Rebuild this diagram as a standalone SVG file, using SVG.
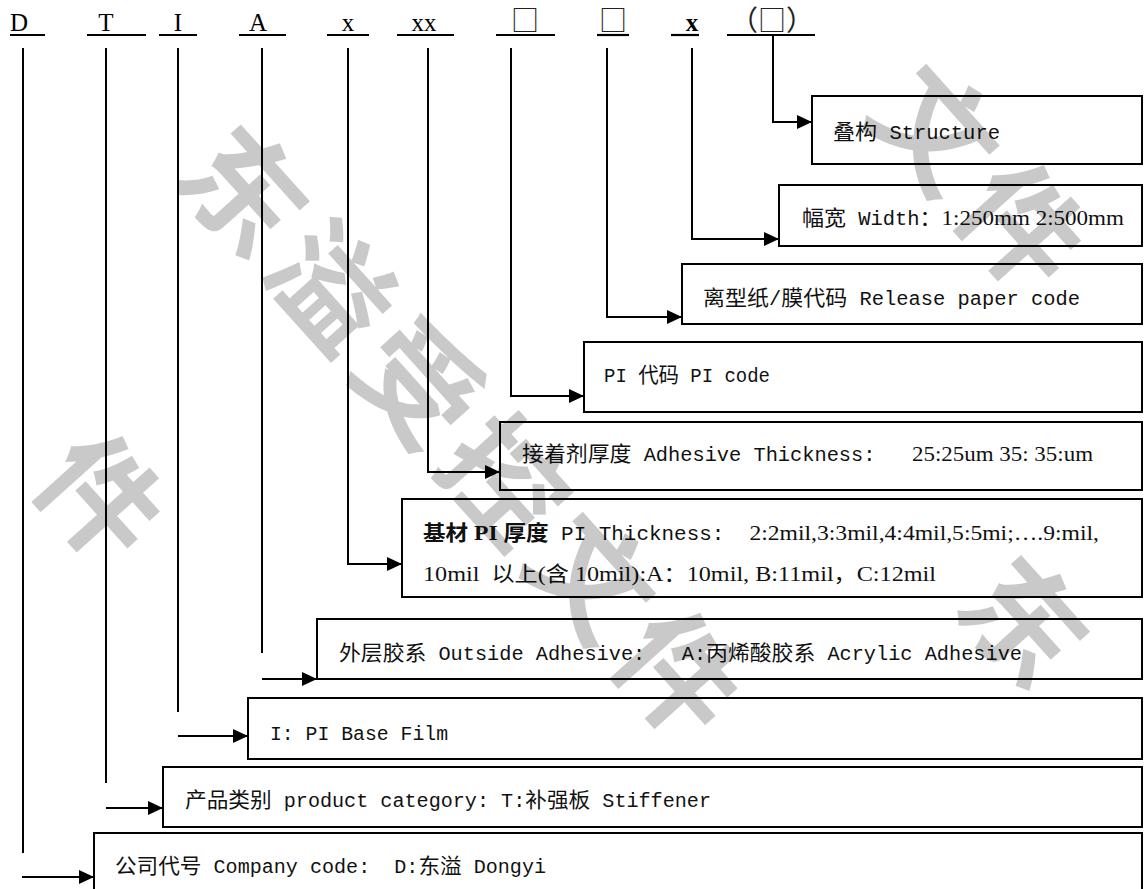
<svg xmlns="http://www.w3.org/2000/svg" width="1144" height="889" viewBox="0 0 1144 889">
<defs>
<marker id="ah" markerUnits="userSpaceOnUse" markerWidth="16" markerHeight="15" refX="15" refY="7" orient="auto">
<path d="M0,0 L15,7 L0,14 z" fill="#000"/>
</marker>
<style>
.hd{font-family:"Liberation Serif",serif;font-size:25px;fill:#000}
.sq{font-family:"Noto Sans CJK SC",sans-serif;font-size:28px;fill:#222}
.ul{stroke:#000;stroke-width:2.2}
.box{fill:#fff;stroke:#000;stroke-width:2}
.ln{fill:none;stroke:#000;stroke-width:2}
.ar{fill:none;stroke:#000;stroke-width:2;marker-end:url(#ah)}
.t{font-family:"Liberation Mono","Noto Sans CJK SC",monospace;font-size:19.5px;fill:#111;white-space:pre}
.c{font-family:"Noto Sans CJK SC",sans-serif;font-size:21px}
.r{font-family:"Liberation Serif",serif;font-size:22px}
.b{font-weight:bold}
.wm{font-family:"Noto Sans CJK SC",sans-serif;font-size:120px;font-weight:bold;letter-spacing:10px;fill:#000;fill-opacity:0.21}
</style>
</defs>
<rect width="1144" height="889" fill="#fff"/>

<g id="header">
<text class="hd" x="10" y="31">D</text>
<text class="hd" x="106" y="31" text-anchor="middle">T</text>
<text class="hd" x="178" y="31" text-anchor="middle">I</text>
<text class="hd" x="258" y="31" text-anchor="middle">A</text>
<text class="hd" x="348" y="31" text-anchor="middle">x</text>
<text class="hd" x="424" y="31" text-anchor="middle">xx</text>
<text class="sq" x="525" y="31" text-anchor="middle">□</text>
<text class="sq" x="613" y="31" text-anchor="middle">□</text>
<text class="hd b" x="692" y="31" text-anchor="middle">x</text>
<text class="sq" x="772" y="31" text-anchor="middle">（□）</text>
<line class="ul" x1="10" y1="35" x2="45" y2="35"/>
<line class="ul" x1="87" y1="35" x2="146" y2="35"/>
<line class="ul" x1="159" y1="35" x2="197" y2="35"/>
<line class="ul" x1="239" y1="35" x2="286" y2="35"/>
<line class="ul" x1="327" y1="35" x2="369" y2="35"/>
<line class="ul" x1="397" y1="35" x2="454" y2="35"/>
<line class="ul" x1="496" y1="35" x2="555" y2="35"/>
<line class="ul" x1="597" y1="35" x2="629" y2="35"/>
<line class="ul" x1="671" y1="35" x2="699" y2="35"/>
<line class="ul" x1="727" y1="35" x2="815" y2="35"/>
</g>

<g id="n-structure">
<rect class="box" x="812" y="96" width="330" height="68"/>
<text class="t" x="833" y="139" textLength="167" lengthAdjust="spacingAndGlyphs"><tspan class="c">叠构</tspan> Structure</text>
</g>
<g id="n-width">
<rect class="box" x="779" y="185" width="363" height="61"/>
<text class="t" x="802" y="225" textLength="322" lengthAdjust="spacingAndGlyphs"><tspan class="c">幅宽</tspan> Width<tspan class="c">：</tspan><tspan class="r">1:250mm 2:500mm</tspan></text>
</g>
<g id="n-release">
<rect class="box" x="682" y="264" width="460" height="60"/>
<text class="t" x="703" y="305" textLength="377" lengthAdjust="spacingAndGlyphs"><tspan class="c">离型纸</tspan>/<tspan class="c">膜代码</tspan> Release paper code</text>
</g>
<g id="n-picode">
<rect class="box" x="584" y="342" width="558" height="70"/>
<text class="t" x="604" y="382" textLength="166" lengthAdjust="spacingAndGlyphs">PI <tspan class="c">代码</tspan> PI code</text>
</g>
<g id="n-adhesive">
<rect class="box" x="500" y="422" width="642" height="68"/>
<text class="t" x="522" y="461" textLength="571" lengthAdjust="spacingAndGlyphs"><tspan class="c">接着剂厚度</tspan> Adhesive Thickness:   <tspan class="r">25:25um 35: 35:um</tspan></text>
</g>
<g id="n-pithick">
<rect class="box" x="402" y="499" width="740" height="98"/>
<text class="t" x="423" y="540" textLength="676" lengthAdjust="spacingAndGlyphs"><tspan class="c b">基材</tspan><tspan class="r b"> PI </tspan><tspan class="c b">厚度</tspan> PI Thickness:  <tspan class="r">2:2mil,3:3mil,4:4mil,5:5mi;….9:mil,</tspan></text>
<text class="t" x="423" y="581" textLength="513" lengthAdjust="spacingAndGlyphs"><tspan class="r">10mil  </tspan><tspan class="c">以上</tspan><tspan class="r">(</tspan><tspan class="c">含</tspan><tspan class="r"> 10mil):A</tspan><tspan class="c">：</tspan><tspan class="r">10mil, B:11mil</tspan><tspan class="c">，</tspan><tspan class="r">C:12mil</tspan></text>
</g>
<g id="n-outside">
<rect class="box" x="317" y="619" width="825" height="60"/>
<text class="t" x="339" y="660" textLength="683" lengthAdjust="spacingAndGlyphs"><tspan class="c">外层胶系</tspan> Outside Adhesive:   A:<tspan class="c">丙烯酸胶系</tspan> Acrylic Adhesive</text>
</g>
<g id="n-basefilm">
<rect class="box" x="248" y="698" width="894" height="61"/>
<text class="t" x="270" y="740" textLength="178" lengthAdjust="spacingAndGlyphs">I: PI Base Film</text>
</g>
<g id="n-category">
<rect class="box" x="163" y="767" width="979" height="60"/>
<text class="t" x="185" y="807" textLength="526" lengthAdjust="spacingAndGlyphs"><tspan class="c">产品类别</tspan> product category: T:<tspan class="c">补强板</tspan> Stiffener</text>
</g>
<g id="n-company">
<rect class="box" x="94" y="833" width="1048" height="70"/>
<text class="t" x="115" y="873" textLength="431" lengthAdjust="spacingAndGlyphs"><tspan class="c">公司代号</tspan> Company code:  D:<tspan class="c">东溢</tspan> Dongyi</text>
</g>

<g id="connectors">
<path class="ar" d="M773,35 V122 H812"/>
<path class="ar" d="M692,48 V239 H779"/>
<path class="ar" d="M607,48 V317 H682"/>
<path class="ar" d="M511,48 V396 H584"/>
<path class="ar" d="M428,48 V472 H500"/>
<path class="ar" d="M348,48 V564 H402"/>
<path class="ln" d="M262,48 V653"/>
<path class="ar" d="M262,679 H317"/>
<path class="ln" d="M178,48 V712"/>
<path class="ar" d="M178,736 H248"/>
<path class="ln" d="M106,48 V783"/>
<path class="ar" d="M106,808 H163"/>
<path class="ln" d="M23,48 V853"/>
<path class="ar" d="M22,877 H94"/>
</g>

<g id="watermark" transform="rotate(48)">
<text class="wm" x="245" y="-9">东溢受控文件</text>
<text class="wm" x="662" y="-564">文件</text>
<text class="wm" x="1087" y="-301">东</text>
<text class="wm" x="377" y="302">件</text>
</g>
</svg>
